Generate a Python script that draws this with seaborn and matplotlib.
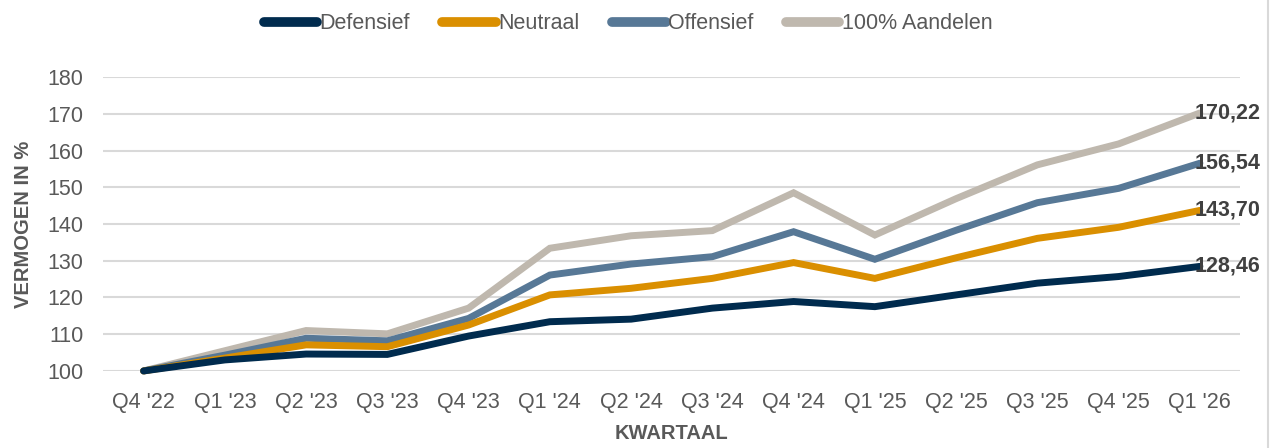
import pandas as pd
import matplotlib
matplotlib.use("Agg")
import matplotlib.pyplot as plt
from matplotlib.lines import Line2D
import seaborn as sns

# Data
kwartalen = ["Q4 '22", "Q1 '23", "Q2 '23", "Q3 '23", "Q4 '23", "Q1 '24", "Q2 '24",
             "Q3 '24", "Q4 '24", "Q1 '25", "Q2 '25", "Q3 '25", "Q4 '25", "Q1 '26"]
defensief = [100, 103.0, 104.6, 104.5, 109.5, 113.4, 114.1, 117.1, 118.9, 117.5, 120.7, 123.9, 125.7, 128.46]
neutraal = [100, 103.5, 107.1, 106.6, 112.5, 120.7, 122.5, 125.2, 129.5, 125.2, 130.8, 136.1, 139.1, 143.70]
offensief = [100, 104.3, 108.9, 108.2, 114.3, 126.1, 129.1, 131.1, 137.9, 130.4, 138.3, 145.8, 149.7, 156.54]
aandelen = [100, 105.5, 111.0, 110.1, 117.1, 133.4, 136.8, 138.2, 148.5, 137.0, 146.9, 156.1, 161.8, 170.22]

series = {
    "Defensief": defensief,
    "Neutraal": neutraal,
    "Offensief": offensief,
    "100% Aandelen": aandelen,
}
colors = {
    "Defensief": "#002B4E",
    "Neutraal": "#DA8F00",
    "Offensief": "#577896",
    "100% Aandelen": "#BFB8AE",
}

rows = []
for name, vals in series.items():
    for i, (k, v) in enumerate(zip(kwartalen, vals)):
        rows.append({"idx": i, "Kwartaal": k, "Portefeuille": name, "Vermogen": v})
df = pd.DataFrame(rows)

sns.set_theme(style="white")
plt.rcParams["font.family"] = ["Liberation Sans", "DejaVu Sans"]

fig = plt.figure(figsize=(12.71, 4.48), dpi=100)
ax = fig.add_axes([0.081, 0.172, 0.895, 0.656])

# draw in reverse order so Defensief ends up on top
order = list(series.keys())
for name in reversed(order):
    sub = df[df["Portefeuille"] == name]
    sns.lineplot(data=sub, x="idx", y="Vermogen", color=colors[name], lw=5.0,
                 ax=ax, solid_capstyle="round", solid_joinstyle="miter",
                 clip_on=False, legend=False, zorder=3)

ax.set_xlim(-0.5, 13.5)
ax.set_ylim(100, 180)
ax.set_yticks(range(100, 181, 10))
ax.set_xticks(range(len(kwartalen)))
ax.set_xticklabels(kwartalen)
ax.yaxis.grid(True, color="#D9D9D9", lw=1.5)
ax.set_axisbelow(True)
for s in ax.spines.values():
    s.set_visible(False)
ax.tick_params(axis="both", length=0, labelsize=15.5, labelcolor="#595959")
ax.tick_params(axis="x", pad=15)
ax.tick_params(axis="y", pad=14)

ax.set_xlabel("KWARTAAL", fontsize=14.5, fontweight="bold", color="#595959", labelpad=8)
ax.set_ylabel("VERMOGEN IN %", fontsize=14.5, fontweight="bold", color="#595959", labelpad=10)

# end-point labels
last = len(kwartalen) - 1
for name in order:
    v = series[name][-1]
    ax.annotate(f"{v:.2f}".replace(".", ","), xy=(last, v), xytext=(-5, 0),
                textcoords="offset pixels", ha="left", va="center",
                fontsize=15.5, fontweight="bold", color="#404040", zorder=5,
                annotation_clip=False)

handles = [Line2D([0], [0], color=colors[n], lw=7, solid_capstyle="round") for n in order]
fig.legend(handles, order, loc="center", bbox_to_anchor=(0.494, 0.947), ncol=4,
           frameon=False, fontsize=15.5, handlelength=2.5, handletextpad=0.1,
           columnspacing=1.5, labelcolor="#595959")

fig.add_artist(Line2D([0.9975, 0.9975], [0, 1], color="#D9D9D9", lw=1.5))

fig.savefig("out.png", dpi=100)
